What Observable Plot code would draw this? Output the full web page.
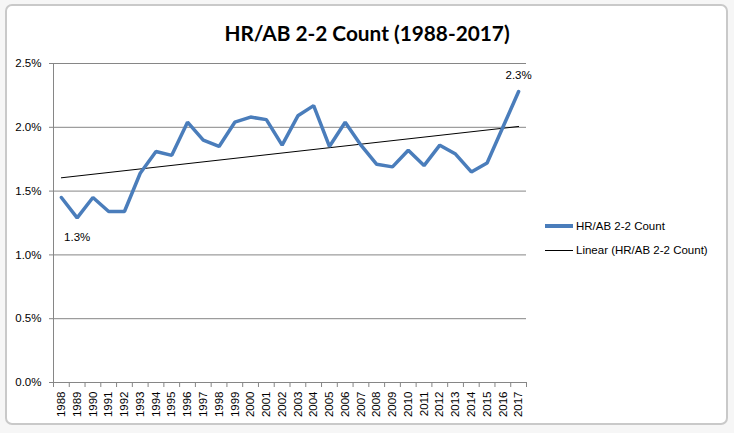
<!DOCTYPE html>
<html><head><meta charset="utf-8">
<script src="https://cdn.jsdelivr.net/npm/d3@7"></script>
<script src="https://cdn.jsdelivr.net/npm/@observablehq/plot@0.6"></script>
<style>
body{margin:0;background:#fff;}
#wrap{position:relative;width:734px;height:433px;overflow:hidden;font-family:"Liberation Sans",Arial,sans-serif;background:#f6f6f6;}
#frame{position:absolute;left:5px;top:4px;width:719px;height:417px;border:2px solid #c9c9c9;border-radius:7px;background:#fff;}
#title{position:absolute;left:0;width:734px;top:21px;text-align:center;font-weight:bold;font-size:20.8px;line-height:24px;color:#000;font-family:Lato,"Liberation Sans",sans-serif;}
#plot{position:absolute;left:0;top:0;}
.leg{position:absolute;left:545px;font-size:11.5px;color:#000;white-space:nowrap;}
.sw{position:absolute;left:0;width:28px;}
.lt{position:absolute;left:31px;top:-8px;line-height:16px;}
</style></head>
<body>
<div id="wrap">
  <div id="frame"></div>
  <div id="plot"></div>
  <div id="title">HR/AB 2-2 Count (1988-2017)</div>
  <div class="leg" style="top:226px"><div class="sw" style="top:-2px;height:4px;background:#4a7dbb"></div><div class="lt">HR/AB 2-2 Count</div></div>
  <div class="leg" style="top:250px"><div class="sw" style="top:0;height:1px;background:#000"></div><div class="lt">Linear (HR/AB 2-2 Count)</div></div>
</div>
<script>
const years = [1988,1989,1990,1991,1992,1993,1994,1995,1996,1997,1998,1999,2000,2001,2002,2003,2004,2005,2006,2007,2008,2009,2010,2011,2012,2013,2014,2015,2016,2017];
const hrPct = [1.45,1.29,1.45,1.34,1.34,1.64,1.81,1.78,2.04,1.90,1.85,2.04,2.08,2.06,1.86,2.09,2.17,1.85,2.04,1.86,1.71,1.69,1.82,1.70,1.86,1.79,1.65,1.72,2.00,2.28];
const yTicks = [0,0.5,1.0,1.5,2.0,2.5];
const labeledYears = {1989: 19, 2017: -16};

const data = years.map((year,i)=>({year, value: hrPct[i]}));

// least-squares linear trend (Excel "Linear" trendline)
const n = data.length;
const mx = d3.mean(data, d=>d.year), my = d3.mean(data, d=>d.value);
const slope = d3.sum(data, d=>(d.year-mx)*(d.value-my)) / d3.sum(data, d=>(d.year-mx)**2);
const trend = [years[0], years[n-1]].map(year=>({year, value: my + slope*(year-mx)}));

const bounds = years.map(y=>y-0.5).concat([years[n-1]+0.5]);

const chart = Plot.plot({
  width:734, height:433,
  marginLeft:53, marginRight:208, marginTop:63, marginBottom:51,
  x:{domain:[years[0]-0.5, years[n-1]+0.5]},
  y:{domain:[0,2.5]},
  style:{fontFamily:'"Liberation Sans",Arial,sans-serif', fontSize:"11.5px", color:"#000", background:"transparent"},
  marks:[
    Plot.ruleY(yTicks, {stroke:"#868686", strokeWidth:1}),
    Plot.ruleX([years[0]-0.5], {stroke:"#868686", strokeWidth:1}),
    Plot.axisY({ticks:yTicks, tickSize:4, tickPadding:8, stroke:"#868686", fill:"#000", tickFormat:d=>d.toFixed(1)+"%", label:null}),
    Plot.axisX({ticks:bounds, tickSize:5, tickFormat:()=>"", stroke:"#868686", label:null}),
    Plot.axisX({ticks:years, tickSize:0, tickPadding:9, tickRotate:-90, tickFormat:d=>String(d), fill:"#000", label:null}),
    Plot.line(trend, {x:"year", y:"value", stroke:"#000", strokeWidth:1}),
    Plot.line(data, {x:"year", y:"value", stroke:"#4a7dbb", strokeWidth:3.5, strokeLinejoin:"miter"}),
    Plot.text(data.filter(d=>d.year===1989), {x:"year", y:"value", text:d=>d.value.toFixed(1)+"%", dy:labeledYears[1989], fill:"#000"}),
    Plot.text(data.filter(d=>d.year===2017), {x:"year", y:"value", text:d=>d.value.toFixed(1)+"%", dy:labeledYears[2017], fill:"#000"})
  ]
});
document.getElementById("plot").appendChild(chart);
</script>
</body></html>
